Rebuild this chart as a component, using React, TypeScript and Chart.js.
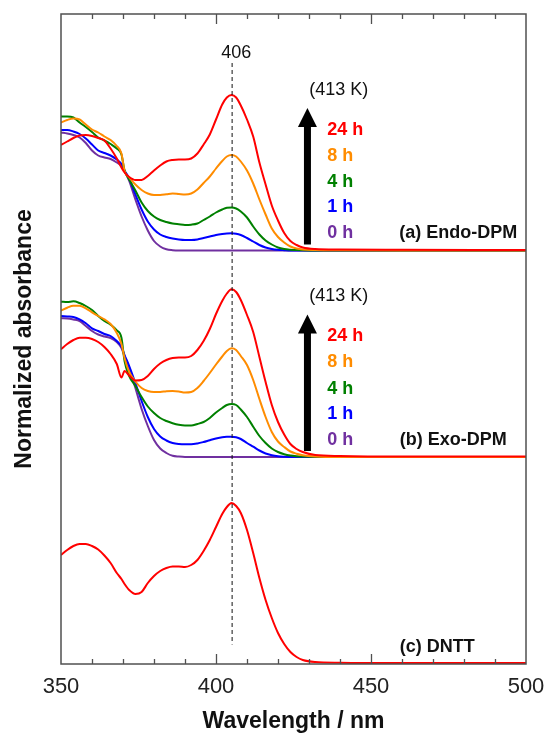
import { useEffect, useRef } from 'react';
import { Chart, registerables } from 'chart.js';

Chart.register(...registerables);

// ---------- data ----------
const WAVELENGTHS = [
  350, 352, 354, 356, 358, 360, 362, 364, 366, 368,
  369.5, 370.5,
  372, 374, 376, 378, 380, 382, 384, 386, 388, 390, 392, 394, 396, 398, 400, 402,
  403.5, 405, 406.5,
  408, 410, 412, 414, 416, 418, 420, 422, 424, 426, 428,
  432, 440, 460, 500,
];

// panel (a) Endo-DPM
const A_24H = [10.55, 10.9, 11.25, 11.5, 11.55, 11.45, 11.25, 11.0, 10.2, 9.2, 8.3, 7.8, 7.35, 7.05, 7.05, 7.45, 8.0, 8.5, 8.9, 9.05, 9.1, 9.1, 9.2, 9.7, 10.6, 11.6, 13.1, 14.6, 15.3, 15.55, 15.3, 14.5, 13.1, 11.4, 8.8, 6.6, 4.5, 3.0, 1.75, 0.95, 0.55, 0.3, 0.15, 0.1, 0.08, 0.05];
const A_8H = [12.8, 13.05, 13.2, 13.1, 12.6, 12.1, 11.8, 11.4, 11.05, 10.45, 9.7, 7.95, 7.3, 6.6, 6.05, 5.7, 5.55, 5.55, 5.62, 5.7, 5.65, 5.6, 5.7, 6.1, 6.75, 7.4, 8.2, 8.95, 9.4, 9.55, 9.4, 8.9, 8.0, 6.7, 5.1, 3.6, 2.2, 1.35, 0.8, 0.4, 0.2, 0.1, 0.05, 0.02, 0, 0];
const A_4H = [13.4, 13.4, 13.3, 12.8, 12.35, 11.85, 11.3, 11.0, 10.65, 10.2, 9.6, 8.0, 7.1, 6.0, 4.8, 3.95, 3.4, 3.05, 2.85, 2.7, 2.62, 2.55, 2.58, 2.7, 3.05, 3.4, 3.8, 4.1, 4.27, 4.3, 4.2, 3.9, 3.3, 2.4, 1.6, 1.0, 0.6, 0.3, 0.15, 0.08, 0.04, 0.02, 0, 0, 0, 0];
const A_1H = [12.05, 12.05, 11.9, 11.65, 11.2, 10.6, 10.0, 9.75, 9.5, 9.1, 8.65, 8.0, 7.2, 5.6, 4.1, 2.9, 2.1, 1.6, 1.35, 1.2, 1.1, 1.05, 1.05, 1.1, 1.25, 1.4, 1.55, 1.65, 1.7, 1.72, 1.68, 1.55, 1.25, 0.9, 0.55, 0.3, 0.15, 0.07, 0.03, 0, 0, 0, 0, 0, 0, 0];
const A_0H = [11.8, 11.7, 11.55, 11.3, 10.75, 10.0, 9.5, 9.3, 9.15, 8.8, 8.45, 7.95, 6.95, 5.1, 3.4, 2.0, 0.95, 0.4, 0.12, 0.03, 0, 0, 0, 0, 0, 0, 0, 0, 0, 0, 0, 0, 0, 0, 0, 0, 0, 0, 0, 0, 0, 0, 0, 0, 0, 0];

// panel (b) Exo-DPM
const B_24H = [10.77, 11.3, 11.7, 11.93, 11.93, 11.8, 11.5, 11.0, 10.3, 9.3, 7.95, 8.6, 8.15, 7.65, 7.7, 8.1, 8.8, 9.35, 9.7, 9.9, 9.95, 9.95, 10.1, 10.7, 11.6, 12.8, 14.3, 15.6, 16.35, 16.77, 16.5, 15.7, 14.2, 12.5, 10.0, 7.5, 5.2, 3.5, 2.25, 1.3, 0.8, 0.5, 0.2, 0.1, 0.05, 0.05];
const B_8H = [14.63, 14.93, 15.13, 15.13, 14.87, 14.47, 14.1, 13.77, 13.3, 12.4, 11.3, 9.9, 8.5, 7.55, 6.9, 6.6, 6.5, 6.5, 6.58, 6.6, 6.55, 6.45, 6.5, 6.9, 7.6, 8.4, 9.25, 10.05, 10.6, 10.87, 10.7, 10.1, 9.2, 7.7, 5.8, 4.0, 2.5, 1.55, 1.0, 0.55, 0.33, 0.18, 0.05, 0, 0, 0];
const B_4H = [15.53, 15.5, 15.57, 15.4, 15.1, 14.7, 14.1, 13.6, 13.23, 12.67, 11.93, 9.6, 8.1, 7.1, 6.0, 5.05, 4.4, 3.9, 3.6, 3.38, 3.22, 3.15, 3.15, 3.3, 3.5, 3.9, 4.45, 4.9, 5.2, 5.3, 5.2, 4.75, 4.0, 3.03, 2.1, 1.4, 0.85, 0.5, 0.28, 0.15, 0.08, 0.04, 0.02, 0, 0, 0];
const B_1H = [14.1, 14.05, 14.0, 13.77, 13.37, 12.87, 12.6, 12.3, 12.1, 11.6, 11.05, 10.2, 9.1, 7.4, 5.6, 4.0, 2.8, 2.05, 1.65, 1.4, 1.3, 1.27, 1.27, 1.35, 1.5, 1.68, 1.85, 1.98, 2.02, 2.03, 1.98, 1.8, 1.4, 1.03, 0.65, 0.35, 0.18, 0.08, 0.03, 0, 0, 0, 0, 0, 0, 0];
const B_0H = [13.87, 13.85, 13.75, 13.6, 13.1, 12.6, 12.25, 12.05, 11.9, 11.5, 10.9, 10.1, 8.9, 6.9, 4.8, 3.1, 1.7, 0.85, 0.4, 0.12, 0.04, 0, 0, 0, 0, 0, 0, 0, 0, 0, 0, 0, 0, 0, 0, 0, 0, 0, 0, 0, 0, 0, 0, 0, 0, 0];

// panel (c) DNTT
const C_DNTT = [10.8, 11.3, 11.7, 11.9, 11.9, 11.7, 11.35, 10.75, 10.0, 9.0, 8.4, 7.9, 7.3, 6.9, 7.1, 8.0, 8.7, 9.2, 9.5, 9.65, 9.65, 9.6, 9.8, 10.3, 11.2, 12.3, 13.6, 14.9, 15.6, 16.0, 15.7, 15.0, 13.3, 11.0, 8.5, 6.3, 4.5, 3.0, 1.9, 1.1, 0.6, 0.3, 0.1, 0.03, 0, 0];

// vertical stacking offsets of the three panels
const OFFSET_A = 41.35;
const OFFSET_B = 20.7;
const OFFSET_C = 0.1;

const X_MIN = 350;
const X_MAX = 500;
const Y_MIN = 0;
const Y_MAX = 65;
const X_MAJOR_STEP = 50;
const X_MINOR_STEP = 10;

const PEAK_WAVELENGTH = 405.2;
const PEAK_LABEL = '406';
const PEAK_LINE_TOP = 60.1;
const PEAK_LINE_BOTTOM = 1.95;

const TIME_LABELS = ['24 h', '8 h', '4 h', '1 h', '0 h'];
const TIME_COLORS = ['#FF0000', '#FF8C00', '#008000', '#0000FF', '#7030A0'];
const TIME_LABEL_Y = [12.05, 9.45, 6.8, 4.3, 1.7];
const TIME_LABEL_X = 435.9;
const TEMP_LABEL = '(413 K)';
const TEMP_LABEL_X = 439.6;
const TEMP_LABEL_Y = 16.05;
const ARROW_X = 429.5;
const ARROW_BOTTOM = 0.6;
const ARROW_HEAD_BASE = 12.35;
const ARROW_TIP = 14.25;

const PANEL_LABELS = ['(a) Endo-DPM', '(b) Exo-DPM', '(c) DNTT'];
const PANEL_LABEL_X = [497.2, 493.8, 483.5];
const PANEL_LABEL_Y = [1.72, 1.7, 1.63];

const FONT = '"Liberation Sans", Arial, Helvetica, sans-serif';

function series(values: number[], offset: number) {
  return WAVELENGTHS.map((w, i) => ({ x: w, y: values[i] + offset }));
}

function lineDataset(values: number[], offset: number, color: string) {
  return {
    data: series(values, offset),
    borderColor: color,
    backgroundColor: color,
    borderWidth: 2,
    pointRadius: 0,
    cubicInterpolationMode: 'monotone' as const,
    fill: false,
  };
}

const annotationPlugin = {
  id: 'uvvisAnnotations',
  afterDatasetsDraw(chart: any) {
    const { ctx, chartArea: ca, scales } = chart;
    const xs = scales.x;
    const ys = scales.y;
    ctx.save();

    // frame
    ctx.strokeStyle = '#505050';
    ctx.lineWidth = 1.5;
    ctx.strokeRect(ca.left, ca.top, ca.right - ca.left, ca.bottom - ca.top);

    // inward ticks top and bottom
    ctx.lineWidth = 1.3;
    for (let v = X_MIN + X_MINOR_STEP; v < X_MAX; v += X_MINOR_STEP) {
      const px = Math.round(xs.getPixelForValue(v)) + 0.5;
      const len = v % X_MAJOR_STEP === 0 ? 10 : 5;
      ctx.beginPath();
      ctx.moveTo(px, ca.bottom);
      ctx.lineTo(px, ca.bottom - len);
      ctx.moveTo(px, ca.top);
      ctx.lineTo(px, ca.top + len);
      ctx.stroke();
    }

    // peak label
    ctx.fillStyle = '#111';
    ctx.textBaseline = 'middle';
    ctx.textAlign = 'center';
    ctx.font = `18px ${FONT}`;
    ctx.fillText(PEAK_LABEL, xs.getPixelForValue(406.5), ys.getPixelForValue(61.1));

    const panels = [OFFSET_A, OFFSET_B];
    panels.forEach((off) => {
      // temperature label
      ctx.fillStyle = '#111';
      ctx.textAlign = 'center';
      ctx.font = `18px ${FONT}`;
      ctx.fillText(TEMP_LABEL, xs.getPixelForValue(TEMP_LABEL_X), ys.getPixelForValue(off + TEMP_LABEL_Y));

      // arrow
      const ax = xs.getPixelForValue(ARROW_X);
      const yb = ys.getPixelForValue(off + ARROW_BOTTOM);
      const yh = ys.getPixelForValue(off + ARROW_HEAD_BASE);
      const yt = ys.getPixelForValue(off + ARROW_TIP);
      ctx.fillStyle = '#000';
      ctx.fillRect(ax - 3.5, yh - 1, 7, yb - yh + 1);
      ctx.beginPath();
      ctx.moveTo(ax, yt);
      ctx.lineTo(ax + 9.5, yh);
      ctx.lineTo(ax - 9.5, yh);
      ctx.closePath();
      ctx.fill();

      // time labels
      ctx.textAlign = 'left';
      ctx.font = `bold 18px ${FONT}`;
      TIME_LABELS.forEach((t, i) => {
        ctx.fillStyle = TIME_COLORS[i];
        ctx.fillText(t, xs.getPixelForValue(TIME_LABEL_X), ys.getPixelForValue(off + TIME_LABEL_Y[i]));
      });
    });

    // panel labels
    const offs = [OFFSET_A, OFFSET_B, OFFSET_C];
    ctx.fillStyle = '#111';
    ctx.textAlign = 'right';
    ctx.font = `bold 18px ${FONT}`;
    PANEL_LABELS.forEach((t, i) => {
      ctx.fillText(t, xs.getPixelForValue(PANEL_LABEL_X[i]), ys.getPixelForValue(offs[i] + PANEL_LABEL_Y[i]));
    });

    ctx.restore();
  },
};

export default function App() {
  const canvasRef = useRef<HTMLCanvasElement | null>(null);

  useEffect(() => {
    if (!canvasRef.current) return;
    const datasets: any[] = [
      {
        data: [
          { x: PEAK_WAVELENGTH, y: PEAK_LINE_TOP },
          { x: PEAK_WAVELENGTH, y: PEAK_LINE_BOTTOM },
        ],
        borderColor: '#111',
        borderWidth: 1,
        borderDash: [4, 3],
        pointRadius: 0,
        fill: false,
      },
      lineDataset(A_24H, OFFSET_A, TIME_COLORS[0]),
      lineDataset(A_8H, OFFSET_A, TIME_COLORS[1]),
      lineDataset(A_4H, OFFSET_A, TIME_COLORS[2]),
      lineDataset(A_1H, OFFSET_A, TIME_COLORS[3]),
      lineDataset(A_0H, OFFSET_A, TIME_COLORS[4]),
      lineDataset(B_24H, OFFSET_B, TIME_COLORS[0]),
      lineDataset(B_8H, OFFSET_B, TIME_COLORS[1]),
      lineDataset(B_4H, OFFSET_B, TIME_COLORS[2]),
      lineDataset(B_1H, OFFSET_B, TIME_COLORS[3]),
      lineDataset(B_0H, OFFSET_B, TIME_COLORS[4]),
      lineDataset(C_DNTT, OFFSET_C, TIME_COLORS[0]),
    ];

    const chart = new Chart(canvasRef.current, {
      type: 'line',
      data: { datasets },
      plugins: [annotationPlugin],
      options: {
        animation: false,
        responsive: false,
        maintainAspectRatio: false,
        devicePixelRatio: 1,
        layout: { padding: { top: 14, right: 21, bottom: 0, left: 0 } },
        plugins: {
          legend: { display: false },
          tooltip: { enabled: false },
        },
        scales: {
          x: {
            type: 'linear',
            min: X_MIN,
            max: X_MAX,
            grid: { display: false, drawTicks: false },
            border: { display: false },
            ticks: {
              stepSize: X_MAJOR_STEP,
              padding: 10,
              color: '#222',
              font: { family: FONT, size: 22 },
              maxRotation: 0,
            },
            title: {
              display: true,
              text: 'Wavelength / nm',
              color: '#111',
              font: { family: FONT, size: 23, weight: 'bold', lineHeight: 1 },
              padding: { top: 0, bottom: 0 },
            },
            afterFit: (s: any) => {
              s.height = 69;
              s.paddingLeft = 0;
              s.paddingRight = 0;
            },
          },
          y: {
            type: 'linear',
            min: Y_MIN,
            max: Y_MAX,
            grid: { display: false, drawTicks: false },
            border: { display: false },
            ticks: { display: false },
            title: {
              display: true,
              text: 'Normalized absorbance',
              color: '#111',
              font: { family: FONT, size: 23, weight: 'bold', lineHeight: 1 },
              padding: { top: 13.5, bottom: 0 },
            },
            afterFit: (s: any) => {
              s.width = 61;
              s.paddingTop = 0;
              s.paddingBottom = 0;
            },
          },
        },
      },
    });
    return () => chart.destroy();
  }, []);

  return (
    <div style={{ position: 'fixed', left: 0, top: 0, width: 547, height: 733, background: '#fff' }}>
      <canvas ref={canvasRef} width={547} height={733} style={{ width: 547, height: 733, display: 'block' }} />
    </div>
  );
}
